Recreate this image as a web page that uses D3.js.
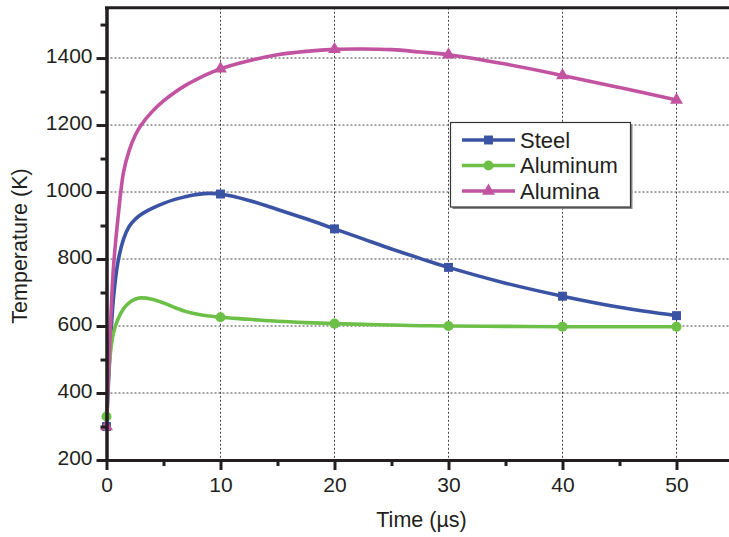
<!DOCTYPE html>
<html>
<head>
<meta charset="utf-8">
<script src="https://cdn.jsdelivr.net/npm/d3@7"></script>
<style>
  html, body { margin: 0; padding: 0; background: #fff; }
  svg { display: block; font-family: "Liberation Sans", Arial, Helvetica, sans-serif; }
</style>
</head>
<body>
<svg id="chart" width="729" height="537"></svg>
<script>
// Sample times (µs) along each temperature history
const times = [0, 0.3, 0.6, 1, 1.5, 2, 2.5, 3, 4, 5, 6, 7, 8, 9, 10, 12.5, 15, 17.5, 20, 22.5, 25, 27.5, 30, 35, 40, 45, 50];

// Temperature (K) for each material at the sample times
const steel    = [300, 520, 680, 790, 860, 898, 918, 932, 951, 966, 978, 987, 993, 996, 994, 975, 948, 920, 890, 860, 830, 802, 775, 728, 689, 656, 631];
const aluminum = [330, 505, 578, 620, 652, 670, 680, 684, 680, 669, 655, 643, 635, 630, 626, 620, 614, 610, 607, 605, 603, 601, 600, 599, 598, 598, 598];
const alumina  = [300, 560, 770, 920, 1060, 1125, 1168, 1198, 1240, 1272, 1298, 1320, 1338, 1354, 1368, 1392, 1410, 1420, 1426, 1427, 1425, 1418, 1410, 1382, 1348, 1312, 1275];

// Times carrying a symbol
const markerTimes = [0, 10, 20, 30, 40, 50];

const seriesNames = ["Steel", "Aluminum", "Alumina"];
const seriesValues = [steel, aluminum, alumina];
const seriesColors = ["#3a53a4", "#6cbf47", "#c153a0"];
const seriesSymbols = [d3.symbolSquare, d3.symbolCircle, d3.symbolTriangle];
const symbolSizes = [80, 80, 72];

const xMajorTicks = [0, 10, 20, 30, 40, 50];
const xMinorTicks = [5, 15, 25, 35, 45];
const yMajorTicks = [200, 400, 600, 800, 1000, 1200, 1400];
const yMinorTicks = [300, 500, 700, 900, 1100, 1300, 1500];

const xTitle = "Time (\u00b5s)";
const yTitle = "Temperature (K)";

const svg = d3.select("#chart");
const axisColor = "#231f20";

const x = d3.scaleLinear().domain([0, 55]).range([106.5, 733.5]);
const y = d3.scaleLinear().domain([200, 1550]).range([460, 7.8]);

// Dotted grid
const grid = svg.append("g");
grid.selectAll("line.gx").data(xMajorTicks.filter(d => d > 0)).join("line")
  .attr("x1", d => x(d)).attr("x2", d => x(d))
  .attr("y1", y(1550)).attr("y2", y(200))
  .attr("stroke", "#444").attr("stroke-width", 1).attr("stroke-dasharray", "2,2");
grid.selectAll("line.gy").data(yMajorTicks.filter(d => d > 200)).join("line")
  .attr("x1", x(0)).attr("x2", x(55))
  .attr("y1", d => y(d)).attr("y2", d => y(d))
  .attr("stroke", "#444").attr("stroke-width", 1).attr("stroke-dasharray", "2,2");

// Curves
const line = d3.line()
  .x((d, i) => x(times[i]))
  .y(d => y(d))
  .curve(d3.curveCatmullRom.alpha(0.5));

seriesValues.forEach((vals, k) => {
  svg.append("path")
    .datum(vals)
    .attr("fill", "none")
    .attr("stroke", seriesColors[k])
    .attr("stroke-width", 3.6)
    .attr("stroke-linejoin", "round")
    .attr("d", line);
});

// Symbols at every 10 µs
seriesValues.forEach((vals, k) => {
  const pts = markerTimes.map(t => ({ t, v: vals[times.indexOf(t)] }));
  svg.append("g").selectAll("path").data(pts).join("path")
    .attr("transform", d => `translate(${x(d.t)},${y(d.v)})`)
    .attr("d", d3.symbol().type(seriesSymbols[k]).size(symbolSizes[k]))
    .attr("fill", seriesColors[k]);
});

// Axes
const fontSize = 21;
const yAxis = svg.append("g").attr("transform", `translate(${x(0)},0)`)
  .call(d3.axisLeft(y).tickValues(yMajorTicks).tickSize(10).tickSizeOuter(0).tickPadding(4).tickFormat(d3.format("d")));
const yMinor = svg.append("g").attr("transform", `translate(${x(0)},0)`)
  .call(d3.axisLeft(y).tickValues(yMinorTicks).tickSize(6).tickSizeOuter(0).tickFormat(""));
const xAxis = svg.append("g").attr("transform", `translate(0,${y(200)})`)
  .call(d3.axisBottom(x).tickValues(xMajorTicks).tickSize(10).tickSizeOuter(0).tickPadding(7).tickFormat(d3.format("d")));
const xMinor = svg.append("g").attr("transform", `translate(0,${y(200)})`)
  .call(d3.axisBottom(x).tickValues(xMinorTicks).tickSize(6).tickSizeOuter(0).tickFormat(""));

[yAxis, yMinor, xAxis, xMinor].forEach(g => {
  g.select(".domain").attr("stroke", axisColor).attr("stroke-width", 3);
  g.selectAll(".tick line").attr("stroke", axisColor).attr("stroke-width", 3);
  g.selectAll(".tick text").attr("fill", "#231f20").attr("font-size", fontSize)
    .attr("font-family", "Liberation Sans, Arial, sans-serif");
});
yAxis.selectAll(".tick text").attr("dy", "0.2em");

// Top frame edge
svg.append("line")
  .attr("x1", x(0) - 1.5).attr("x2", x(55))
  .attr("y1", y(1550)).attr("y2", y(1550))
  .attr("stroke", axisColor).attr("stroke-width", 3);

// Axis titles
svg.append("text")
  .attr("x", 421.5).attr("y", 527)
  .attr("text-anchor", "middle")
  .attr("font-size", 21.5).attr("fill", "#231f20")
  .text(xTitle);
svg.append("text")
  .attr("transform", "translate(27,246) rotate(-90)")
  .attr("text-anchor", "middle")
  .attr("font-size", 21.5).attr("fill", "#231f20")
  .text(yTitle);

// Legend
const legend = svg.append("g");
const lx = 450.5, ly = 122.5, lw = 180, lh = 84.5;
legend.append("rect")
  .attr("x", lx + 2).attr("y", ly + 2).attr("width", lw).attr("height", lh)
  .attr("fill", "#888");
legend.append("rect")
  .attr("x", lx).attr("y", ly).attr("width", lw).attr("height", lh)
  .attr("fill", "#fff").attr("stroke", "#333").attr("stroke-width", 1.2);
const rowY = [140, 165.5, 191];
seriesNames.forEach((name, k) => {
  const row = legend.append("g").attr("transform", `translate(0,${rowY[k]})`);
  row.append("line")
    .attr("x1", 462).attr("x2", 515).attr("y1", 0).attr("y2", 0)
    .attr("stroke", seriesColors[k]).attr("stroke-width", 3.6);
  row.append("path")
    .attr("transform", "translate(488.5,0)")
    .attr("d", d3.symbol().type(seriesSymbols[k]).size(symbolSizes[k]))
    .attr("fill", seriesColors[k]);
  row.append("text")
    .attr("x", 520).attr("y", 0).attr("dy", "0.36em")
    .attr("font-size", 22).attr("fill", "#231f20")
    .text(name);
});
</script>
</body>
</html>
